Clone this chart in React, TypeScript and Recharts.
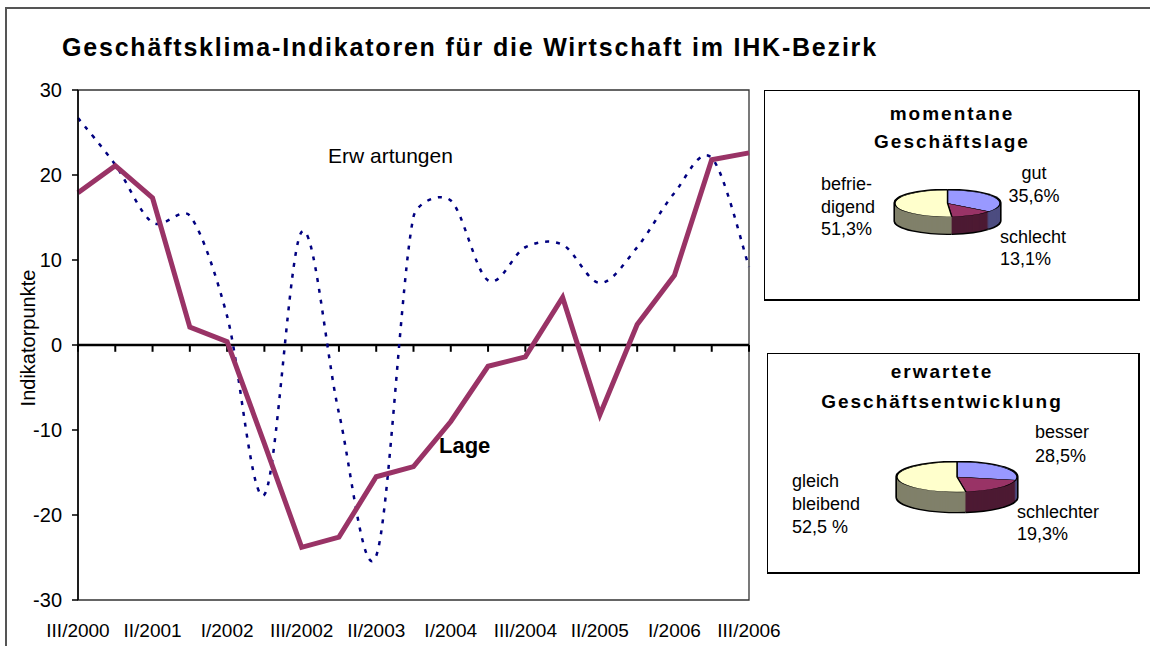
import React from 'react';
import { LineChart, Line, XAxis, YAxis, ReferenceLine, ReferenceArea, PieChart, Pie, Cell } from 'recharts';

// survey rounds (three per year), values in Indikatorpunkte
const quarters = [
  'III/2000', 'I/2001', 'II/2001', 'III/2001', 'I/2002', 'II/2002', 'III/2002', 'I/2003', 'II/2003', 'III/2003',
  'I/2004', 'II/2004', 'III/2004', 'I/2005', 'II/2005', 'III/2005', 'I/2006', 'II/2006', 'III/2006',
];
const lage = [17.9, 21.1, 17.3, 2.1, 0.4, -11.6, -23.8, -22.6, -15.5, -14.3, -9, -2.5, -1.4, 5.6, -8.2, 2.4, 8.2, 21.8, 22.6];
const erwartungen = [26.7, 21.2, 14.4, 15.2, 3.4, -17.6, 13.3, -8, -24.8, 15.1, 17, 7.6, 11.5, 11.8, 7.3, 11.5, 17.9, 22, 9.2];
const yTicks = [-30, -20, -10, 0, 10, 20, 30];

const lageNames = ['gut', 'schlecht', 'befriedigend'];
const lageShares = [35.6, 13.1, 51.3];
const entwNames = ['besser', 'schlechter', 'gleich bleibend'];
const entwShares = [28.5, 19.3, 52.5];

const topColors = ['#9999FF', '#993366', '#FFFFCC'];
const sideColors = ['#4D4D80', '#4D1A33', '#80806A'];

const FONT = '"Liberation Sans", Arial, Helvetica, sans-serif';

// Excel-like smoothed line: Catmull-Rom bezier, control arms clamped to the segment length
function excelSmooth(context: any) {
  let pts: number[][] = [];
  const k = 0.35;
  const arm = (a: number[], b: number[], d: number) => {
    const tx = (b[0] - a[0]) / 6;
    const ty = (b[1] - a[1]) / 6;
    const len = Math.hypot(tx, ty) || 1;
    const f = Math.min(1, (d * k) / len);
    return [tx * f, ty * f];
  };
  return {
    areaStart() {},
    areaEnd() {},
    lineStart() {
      pts = [];
    },
    point(x: number, y: number) {
      pts.push([+x, +y]);
    },
    lineEnd() {
      if (!pts.length) return;
      context.moveTo(pts[0][0], pts[0][1]);
      for (let i = 0; i < pts.length - 1; i++) {
        const p0 = pts[i - 1] || pts[i];
        const p1 = pts[i];
        const p2 = pts[i + 1];
        const p3 = pts[i + 2] || p2;
        const d = Math.hypot(p2[0] - p1[0], p2[1] - p1[1]);
        const a1 = arm(p0, p2, d);
        const a2 = arm(p1, p3, d);
        context.bezierCurveTo(p1[0] + a1[0], p1[1] + a1[1], p2[0] - a2[0], p2[1] - a2[1], p2[0], p2[1]);
      }
    },
  };
}

type Pie3DProps = {
  names: string[];
  values: number[];
  x: number;
  y: number;
  r: number;
  squash: number;
  depth: number;
};

function Pie3D({ names, values, x, y, r, squash, depth }: Pie3DProps) {
  const data = names.map((name, i) => ({ name, value: values[i] }));
  const c = r + 4;
  const dy = 1 / squash;
  const h = Math.ceil(2 * c + (depth + 2) * dy);
  const layers: number[] = [];
  for (let k = depth; k >= 1; k--) layers.push(k);
  const rims: number[] = [];
  for (let k = depth + 1; k >= -1; k--) rims.push(k);
  const common = {
    data,
    dataKey: 'value',
    cx: c,
    startAngle: 90,
    endAngle: -270,
    isAnimationActive: false,
    labelLine: false,
  };
  return (
    <div
      style={{
        position: 'absolute',
        left: x - c,
        top: y - c * squash,
        width: 2 * c,
        height: h,
        transform: `scaleY(${squash})`,
        transformOrigin: 'top left',
      }}
    >
      <PieChart width={2 * c} height={h} margin={{ top: 0, right: 0, bottom: 0, left: 0 }}>
        {rims.map((k) => (
          <Pie key={'rim' + k} {...common} cy={c + k * dy} outerRadius={r + 1.4} stroke="none">
            {data.map((d) => (
              <Cell key={d.name} fill="#000" />
            ))}
          </Pie>
        ))}
        {layers.map((k) => (
          <Pie key={'side' + k} {...common} cy={c + k * dy} outerRadius={r} stroke="none">
            {data.map((d, i) => (
              <Cell key={d.name} fill={sideColors[i]} />
            ))}
          </Pie>
        ))}
        <Pie {...common} cy={c} outerRadius={r} stroke="#000" strokeWidth={1.4}>
          {data.map((d, i) => (
            <Cell key={d.name} fill={topColors[i]} />
          ))}
        </Pie>
      </PieChart>
    </div>
  );
}

const txt = (left: number, top: number, size: number, extra: React.CSSProperties = {}): React.CSSProperties => ({
  position: 'absolute',
  left,
  top,
  fontSize: size,
  whiteSpace: 'nowrap',
  color: '#000',
  ...extra,
});

export default function App() {
  const rows = quarters.map((q, i) => ({ q, lage: lage[i], erw: erwartungen[i] }));

  return (
    <div
      style={{
        position: 'absolute',
        left: 0,
        top: 0,
        width: 1150,
        height: 646,
        background: '#fff',
        overflow: 'hidden',
        fontFamily: FONT,
      }}
    >
      <div
        style={{
          position: 'absolute',
          left: 5,
          top: 7,
          width: 1200,
          height: 700,
          borderTop: '2px solid #555',
          borderLeft: '2px solid #555',
        }}
      />

      <div style={{ position: 'absolute', left: 0, top: 0 }}>
        <LineChart width={1150} height={646} data={rows} margin={{ top: 90, right: 401, bottom: 16, left: 8 }}>
          <ReferenceArea
            x1={quarters[0]}
            x2={quarters[quarters.length - 1]}
            y1={-30}
            y2={30}
            fill="none"
            fillOpacity={0}
            stroke="#333"
            strokeWidth={1.3}
          />
          <XAxis
            dataKey="q"
            interval={1}
            tickLine={false}
            axisLine={false}
            height={30}
            tickMargin={18}
            tick={{ fontSize: 19, fill: '#000', fontFamily: FONT }}
          />
          <YAxis
            domain={[-30, 30]}
            ticks={yTicks}
            width={70}
            tickSize={6}
            tickMargin={10}
            tick={{ fontSize: 20, fill: '#000', fontFamily: FONT }}
            axisLine={{ stroke: '#000', strokeWidth: 1.5 }}
            tickLine={{ stroke: '#000', strokeWidth: 1.5 }}
          />
          <ReferenceLine y={0} stroke="#000" strokeWidth={2.5} />
          {quarters.map((q) => (
            <ReferenceLine
              key={q}
              segment={[
                { x: q, y: 0 },
                { x: q, y: -0.8 },
              ]}
              stroke="#000"
              strokeWidth={2}
            />
          ))}
          <Line
            dataKey="erw"
            type={excelSmooth as any}
            stroke="#000080"
            strokeWidth={2.5}
            strokeDasharray="4 7"
            dot={false}
            activeDot={false}
            isAnimationActive={false}
          />
          <Line
            dataKey="lage"
            type="linear"
            stroke="#993366"
            strokeWidth={5}
            strokeLinejoin="miter"
            dot={false}
            activeDot={false}
            isAnimationActive={false}
          />
        </LineChart>
      </div>

      <div style={txt(62, 33, 25, { fontWeight: 'bold', lineHeight: '28px', letterSpacing: 1.8 })}>
        Geschäftsklima-Indikatoren für die Wirtschaft im IHK-Bezirk
      </div>
      <div style={txt(328, 144, 21, { lineHeight: '24px' })}>Erw artungen</div>
      <div style={txt(439, 433, 22, { fontWeight: 'bold', lineHeight: '25px' })}>Lage</div>
      <div
        style={txt(28, 338, 20, {
          lineHeight: '22px',
          transform: 'translate(-50%, -50%) rotate(-90deg)',
        })}
      >
        Indikatorpunkte
      </div>

      {/* box: momentane Geschäftslage */}
      <div
        style={{
          position: 'absolute',
          left: 764,
          top: 90,
          width: 373,
          height: 208,
          border: '1px solid #000',
          borderRightWidth: 2,
          borderBottomWidth: 2,
          background: '#fff',
        }}
      />
      <div
        style={txt(952, 100, 19, {
          fontWeight: 'bold',
          lineHeight: '28px',
          letterSpacing: 2,
          textAlign: 'center',
          transform: 'translateX(-50%)',
        })}
      >
        momentane
        <br />
        Geschäftslage
      </div>
      <Pie3D names={lageNames} values={lageShares} x={947.5} y={203.3} r={52.5} squash={0.254} depth={17} />
      <div style={txt(821, 173, 18, { lineHeight: '22.5px' })}>
        befrie-
        <br />
        digend
        <br />
        51,3%
      </div>
      <div style={txt(1034, 162, 18, { lineHeight: '23px', textAlign: 'center', transform: 'translateX(-50%)' })}>
        gut
        <br />
        35,6%
      </div>
      <div style={txt(1000, 226, 18, { lineHeight: '22px' })}>
        schlecht
        <br />
        13,1%
      </div>

      {/* box: erwartete Geschäftsentwicklung */}
      <div
        style={{
          position: 'absolute',
          left: 767,
          top: 353,
          width: 370,
          height: 218,
          border: '1px solid #000',
          borderRightWidth: 2,
          borderBottomWidth: 2,
          background: '#fff',
        }}
      />
      <div
        style={txt(942, 357, 19, {
          fontWeight: 'bold',
          lineHeight: '30px',
          letterSpacing: 2,
          textAlign: 'center',
          transform: 'translateX(-50%)',
        })}
      >
        erwartete
        <br />
        Geschäftsentwicklung
      </div>
      <Pie3D names={entwNames} values={entwShares} x={957} y={476.7} r={60} squash={0.25} depth={20} />
      <div style={txt(1035, 420, 18, { lineHeight: '24px' })}>
        besser
        <br />
        28,5%
      </div>
      <div style={txt(792, 470, 18, { lineHeight: '23px' })}>
        gleich
        <br />
        bleibend
        <br />
        52,5 %
      </div>
      <div style={txt(1017, 501, 18, { lineHeight: '22px' })}>
        schlechter
        <br />
        19,3%
      </div>
    </div>
  );
}
